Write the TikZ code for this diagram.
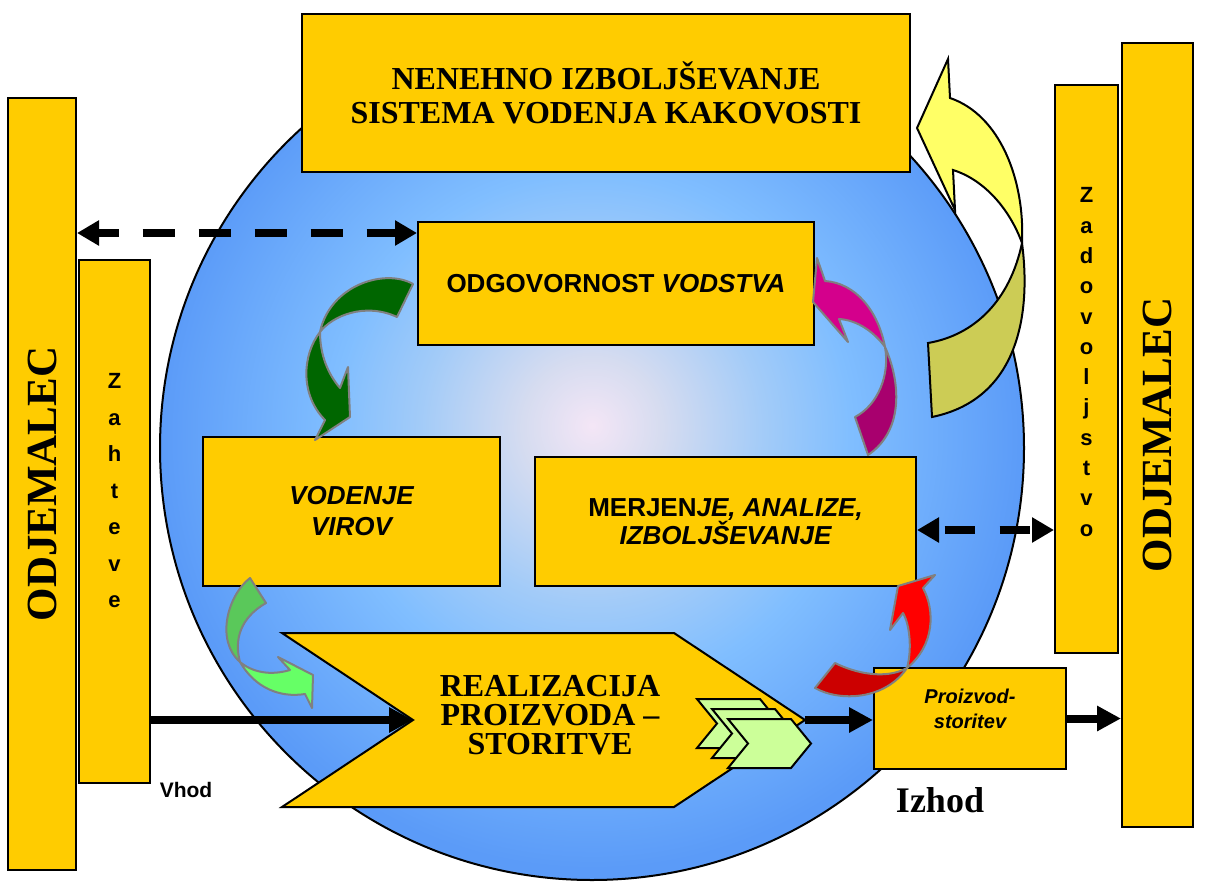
\documentclass[tikz,border=0pt]{standalone}
\usepackage{fontspec}
\setmainfont{Liberation Serif}
\newfontfamily\arialf{Liberation Sans}
\usetikzlibrary{arrows.meta}
\definecolor{boxy}{HTML}{FFCC00}
\definecolor{cA}{HTML}{F4E6F6}
\definecolor{cB}{HTML}{D6DCF0}
\definecolor{cC}{HTML}{A2CBF8}
\definecolor{cD}{HTML}{80BEFF}
\definecolor{cE}{HTML}{5B9BF8}
\definecolor{dkgreen}{HTML}{006600}
\definecolor{ltgreenA}{HTML}{5AC85A}
\definecolor{ltgreenB}{HTML}{66FF66}
\definecolor{magA}{HTML}{D4008C}
\definecolor{magB}{HTML}{A8006E}
\definecolor{redA}{HTML}{FF0000}
\definecolor{redB}{HTML}{CC0000}
\definecolor{yelA}{HTML}{FFFF66}
\definecolor{yelB}{HTML}{CCCC55}
\definecolor{pageg}{HTML}{CCFF99}
\definecolor{outl}{HTML}{808080}
\pgfdeclareradialshading{ballsh}{\pgfpoint{0bp}{1.3bp}}{color(0bp)=(cA); color(4bp)=(cB); color(10bp)=(cC); color(15bp)=(cD); color(25bp)=(cE); color(50bp)=(cE)}
\tikzset{
  ybox/.style={draw=black, line width=2pt, fill=boxy, rectangle, inner sep=0pt},
  thickarrow/.style={line width=8pt, -{Triangle[length=24pt,width=24pt]}},
  dasharrow/.style={line width=8pt, {Triangle[length=22pt,width=24pt]}-{Triangle[length=22pt,width=24pt]}},
  blk/.style={draw=outl, line width=2pt, line join=round},
  blky/.style={draw=black, line width=2pt, line join=miter},
  pagesh/.style={draw=black, line width=2pt, fill=pageg, line join=miter},
  sansb/.style={font=\arialf\bfseries\fontsize{26}{31}\selectfont},
  vertletters/.style={font=\arialf\bfseries\fontsize{22}{30.3}\selectfont, align=center, inner sep=0pt},
  odjtext/.style={rotate=90, font=\bfseries\fontsize{43}{43}\selectfont, inner sep=0pt}
}
\begin{document}
\begin{tikzpicture}[x=1pt,y=-1pt]
\useasboundingbox (0,0) rectangle (1223,881);
% globe
\shadedraw[shading=ballsh, line width=2pt] (592,448) circle[radius=432pt];
% title box
\node[ybox, minimum width=608pt, minimum height=158pt, align=center,
  font=\bfseries\fontsize{32}{34}\selectfont] (top) at (606,93)
  {NENEHNO IZBOLJŠEVANJE\\SISTEMA VODENJA KAKOVOSTI};
% yellow curved arrow
\path[blky, fill=yelB] (1022,243) .. controls (1032,320) and (1015,400) .. (932,417)
  -- (928,343) .. controls (975,335) and (1010,300) .. (1022,243) -- cycle;
\path[blky, fill=yelA] (948,59) -- (950,98) .. controls (1000,115) and (1025,180) .. (1022,243)
  .. controls (1010,210) and (985,180) .. (953,170) -- (955,210) -- (917,128) -- cycle;
% boxes
\node[ybox, minimum width=68pt, minimum height=772pt] (odjL) at (42,484) {};
\node[ybox, minimum width=71pt, minimum height=523pt] (zah) at (114.5,521.5) {};
\node[ybox, minimum width=396pt, minimum height=123pt, sansb] (odg) at (616,283.5)
  {ODGOVORNOST \itshape VODSTVA};
\node[ybox, minimum width=297pt, minimum height=149pt, sansb, align=center] (vir) at (351.5,511.5)
  {\itshape VODENJE\\\itshape VIROV};
\node[ybox, minimum width=381pt, minimum height=129pt, align=center,
  font=\arialf\bfseries\fontsize{26}{27}\selectfont] (mer) at (725.5,521.5)
  {MERJEN\textit{JE, ANALIZE,}\\\itshape IZBOLJŠEVANJE};
\node[ybox, minimum width=63pt, minimum height=568pt] (zad) at (1086.5,369) {};
\node[ybox, minimum width=71pt, minimum height=784pt] (odjR) at (1157.5,435) {};
% vertical texts
\node[odjtext] (odjLt) at (odjL.center) {ODJEMALEC};
\node[odjtext] (odjRt) at (odjR.center) {ODJEMALEC};
\node[vertletters, font=\arialf\bfseries\fontsize{22}{36.5}\selectfont] (zaht) at (114.5,491) {Z\\a\\h\\t\\e\\v\\e};
\node[vertletters] (zadt) at (1086.5,362) {Z\\a\\d\\o\\v\\o\\l\\j\\s\\t\\v\\o};
% dashed arrows
\coordinate (yA) at (0,233);
\coordinate (yB) at (0,530);
\draw[dasharrow, dash pattern=on 32pt off 24pt, dash phase=11pt] (odjL.east |- yA) -- (odg.west |- yA);
\draw[dasharrow, dash pattern=on 30pt off 25pt, dash phase=48pt] (mer.east |- yB) -- (zad.west |- yB);
% dark green arrow
\path[blk, fill=dkgreen] (413,284) .. controls (385,268) and (330,285) .. (320,332)
  .. controls (302,355) and (300,395) .. (325,420) -- (315,440) -- (350,417) -- (348,367) -- (340,388)
  .. controls (328,374) and (320,355) .. (320,332)
  .. controls (332,316) and (365,302) .. (397,317) -- cycle;
% light green arrow
\path[blk, fill=ltgreenA] (250,578) .. controls (228,595) and (215,640) .. (240,662)
  .. controls (234,640) and (240,618) .. (266,603) -- cycle;
\path[blk, fill=ltgreenB] (240,662) .. controls (255,688) and (280,698) .. (305,694)
  -- (312,708) -- (313,675) -- (278,657) -- (290,670)
  .. controls (270,676) and (252,672) .. (240,662) -- cycle;
% magenta arrow
\path[blk, fill=magB] (885,347) .. controls (900,380) and (905,430) .. (868,455)
  -- (855,417) .. controls (878,405) and (890,375) .. (885,347) -- cycle;
\path[blk, fill=magA] (817,258) -- (825,281) .. controls (855,283) and (878,310) .. (885,347)
  .. controls (875,333) and (858,320) .. (839,319) -- (848,342) -- (813,302) -- cycle;
% chevron
\coordinate (notch) at (413,720);
\coordinate (tip) at (805,720);
\path[draw=black, line width=2pt, fill=boxy, line join=miter] (282,633) -- (674,633) -- (tip)
  -- (674,807) -- (282,807) -- (notch) -- cycle;
\node[align=center, font=\bfseries\fontsize{32}{29}\selectfont] (real) at (550,715)
  {REALIZACIJA\\PROIZVODA –\\STORITVE};
% solid arrows
\draw[thickarrow] (zah.east |- notch) -- (notch);
\node[ybox, minimum width=192pt, minimum height=101pt] (pro) at (970,718.5) {};
\draw[thickarrow] (tip) -- (pro.west |- tip);
\draw[thickarrow] (pro.east) -- (odjR.west |- pro.east);
% pages
\foreach \px/\py in {697/699, 712/709, 728/719}{
  \path[pagesh] (\px,\py) -- ++(63,0) -- ++(20,24.5) -- ++(-20,24.5) -- ++(-63,0) -- ++(20,-24.5) -- cycle;
}
\node[align=center, font=\arialf\bfseries\itshape\fontsize{20}{25}\selectfont] (prot) at (970,709)
  {Proizvod-\\storitev};
% red arrow
\path[blk, fill=redB] (907,668) .. controls (885,680) and (855,673) .. (835,663)
  -- (815,688) .. controls (840,702) and (885,700) .. (907,668) -- cycle;
\path[blk, fill=redA] (935,575) -- (923,588) .. controls (935,610) and (935,645) .. (907,668)
  .. controls (912,650) and (910,625) .. (903,613) -- (890,630) -- (898,586) -- cycle;
% labels
\node[anchor=base, inner sep=0pt, font=\arialf\bfseries\fontsize{21}{21}\selectfont] (vhod) at (186,797) {Vhod};
\node[anchor=base, inner sep=0pt, font=\bfseries\fontsize{36}{36}\selectfont] (izhod) at (940,812) {Izhod};
\end{tikzpicture}
\end{document}
